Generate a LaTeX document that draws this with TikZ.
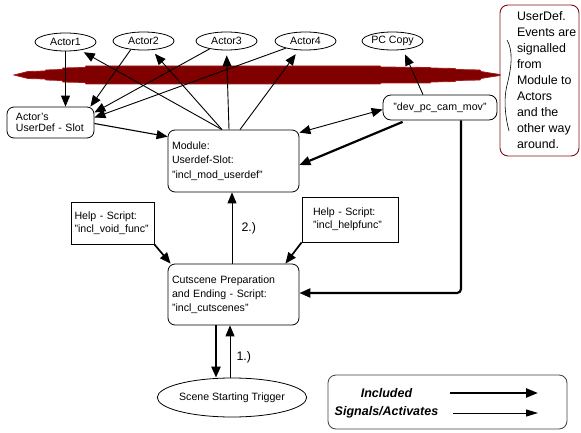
\documentclass[tikz,border=0pt]{standalone}
\usepackage{fontspec}
\setmainfont{Liberation Sans}
\usetikzlibrary{arrows.meta,shapes.geometric}
\definecolor{barRed}{RGB}{128,0,0}
\definecolor{barEdge}{RGB}{165,25,25}
\definecolor{noteRed}{RGB}{128,16,16}
\begin{document}
\begin{tikzpicture}[x=1pt,y=-1pt,
  every node/.style={font=\fontsize{10.6pt}{14pt}\selectfont},
  >={Triangle[length=11pt,width=9pt]},
  thinarr/.style={->, line width=0.9pt},
  midarr/.style={->, line width=1.7pt},
  thickarr/.style={->, line width=2.2pt},
  actor/.style={ellipse, draw, line width=0.8pt, minimum width=61pt, minimum height=18pt, inner sep=0pt},
  rbox/.style={draw, rounded corners=7pt, line width=0.8pt, align=left, inner ysep=0pt},
  sbox/.style={draw, line width=0.8pt, align=left, inner ysep=0pt},
  numlbl/.style={anchor=west, font=\fontsize{12.4pt}{14pt}\selectfont},
  leglbl/.style={font=\fontsize{12.5pt}{14pt}\selectfont\bfseries\itshape}
]
\useasboundingbox (0,0) rectangle (581,433);

% red brush bar
\fill[barRed, draw=barEdge, line width=0.8pt]
  (14,75) -- (28,71.5) -- (45,71) -- (46,70) -- (62,69.5) -- (63,68) -- (85,67.5) -- (86,66)
  -- (380,66) -- (381,67) -- (430,67.5) -- (431,68) -- (455,68.5) -- (456,69.5) -- (480,70)
  -- (481,71.5) -- (490,73) -- (500,74.5) -- (500,75.5) -- (490,77) -- (481,78.5) -- (480,80)
  -- (456,80.5) -- (455,81.5) -- (431,82) -- (430,83) -- (381,83) -- (380,84) -- (86,84)
  -- (85,82.5) -- (63,82) -- (62,80.5) -- (46,80) -- (45,79) -- (28,78.5) -- cycle;

% actors
\node[actor] (a1) at (65.5,42) {Actor1};
\node[actor] (a2) at (143.5,41) {Actor2};
\node[actor] (a3) at (226.5,41) {Actor3};
\node[actor] (a4) at (305.5,41) {Actor4};
\node[actor] (pc) at (392.5,41) {PC Copy};

% boxes
\node[rbox, text width=69pt, inner xsep=9pt, minimum height=31pt,
      font=\fontsize{10.6pt}{11pt}\selectfont] (slot) at (50.5,122.5) {Actor's\\UserDef - Slot};
\node[rbox, text width=123pt, inner xsep=4pt, minimum height=62pt,
      font=\fontsize{10.6pt}{14.5pt}\selectfont] (mod) at (233.5,161) {Module:\\Userdef-Slot:\\"incl\_mod\_userdef"};
\node[rbox, rounded corners=8pt, minimum width=114pt, minimum height=25pt, inner sep=0pt, align=center] (dev) at (440,107.5) {"dev\_pc\_cam\_mov"};
\node[sbox, text width=76pt, inner xsep=3.5pt, minimum height=42pt,
      font=\fontsize{10.6pt}{12.5pt}\selectfont] (hv) at (112.5,223) {Help - Script:\\"incl\_void\_func"};
\node[sbox, text width=74pt, inner xsep=11pt, minimum height=45pt,
      font=\fontsize{10.6pt}{12.5pt}\selectfont] (hf) at (350,219.5) {Help - Script:\\"incl\_helpfunc"};
\node[rbox, text width=123pt, inner xsep=4pt, minimum height=61pt,
      font=\fontsize{10.6pt}{14pt}\selectfont] (cut) at (233.5,294.5) {Cutscene Preparation\\and Ending - Script:\\"incl\_cutscenes"};
\node[ellipse, draw, line width=0.8pt, minimum width=146pt, minimum height=39pt, inner sep=0pt] (trig) at (232,397.5) {Scene Starting Trigger};

% note box
\node[draw=noteRed, rounded corners=8pt, line width=0.9pt, minimum width=79pt, minimum height=151pt, inner sep=0pt] (note) at (539.5,80.5)
  {\hspace*{17pt}\parbox[c]{62pt}{\raggedright\fontsize{12.4pt}{16pt}\selectfont UserDef.\\Events are\\signalled\\from\\Module to\\Actors\\and the\\other way\\around.}};
\draw[line width=0.6pt] (507,40) .. controls (513,50) and (512,66) .. (507,85) .. controls (503,102) and (506,120) .. (509,131);

% connectors: actors -> actor's slot
\draw[thinarr] (a1.south) -- (a1.south |- slot.north);
\draw[thinarr] (a2.214) -- ([xshift=-4pt]slot.north east);
\draw[thinarr] (a3.205) -- ([yshift=10pt]slot.east);
\draw[thinarr] (a4.200) -- ([yshift=5pt]slot.east);
\draw[thinarr, line width=1.1pt] ([yshift=-1pt]slot.east) -- ([yshift=-7pt]mod.north west);

% module -> actors
\draw[thinarr, shorten >=4pt] ([xshift=-11.5pt]mod.north) -- (a1);
\draw[thinarr, shorten >=5pt] ([xshift=-11.5pt]mod.north) -- (a2);
\draw[thinarr, shorten >=5pt] ([xshift=-4.5pt]mod.north) -- (a3.south);
\draw[thinarr, shorten >=5pt] ([xshift=6.5pt]mod.north) -- (a4);

% dev box connections
\draw[thinarr, <->] ([yshift=-2pt]dev.west) -- ([yshift=-3pt]mod.north east);
\draw[thickarr] ([xshift=20pt,yshift=-1.5pt]dev.south west) -- ([yshift=-4pt]mod.east);
\draw[thinarr, shorten >=5pt] ([xshift=-17pt]dev.north) -- (pc.320);
\draw[thickarr, rounded corners=4pt] ([xshift=21pt]dev.south) |- ([yshift=1.5pt]cut.east);

% help scripts
\draw[midarr] (hv.south east) -- ([xshift=3pt]cut.north west);
\draw[midarr] (hf.south west) -- ([xshift=-14pt]cut.north east);

% cutscene <-> module / trigger
\draw[thinarr] ([xshift=-1.5pt]cut.north) -- ([xshift=-1.5pt]mod.south);
\node[numlbl] (l2) at (238,228) {2.)};
\draw[thickarr] ([xshift=-17.5pt]cut.south) -- ([xshift=-17.5pt]cut.south |- trig.north);
\draw[thinarr] ([xshift=-2pt]trig.north) -- ([xshift=-2pt]trig.north |- cut.south);
\node[numlbl] (l1) at (233,357.5) {1.)};

% legend
\node[draw=black!75, rounded corners=8pt, line width=0.8pt, minimum width=239pt, minimum height=54pt, inner sep=0pt] (leg) at (447.5,402) {};
\node[leglbl] (linc) at (386.5,393) {Included};
\node[leglbl] (lsig) at (386.5,412) {Signals/Activates};
\coordinate (li1) at (450,393);
\coordinate (li2) at (538,393);
\coordinate (ls1) at (453,413);
\coordinate (ls2) at (538,413);
\draw[line width=2.4pt, -{Triangle[length=12pt,width=9pt]}] (li1) -- (li2);
\draw[line width=1pt, -{Triangle[length=12pt,width=7pt]}] (ls1) -- (ls2);
\end{tikzpicture}
\end{document}
